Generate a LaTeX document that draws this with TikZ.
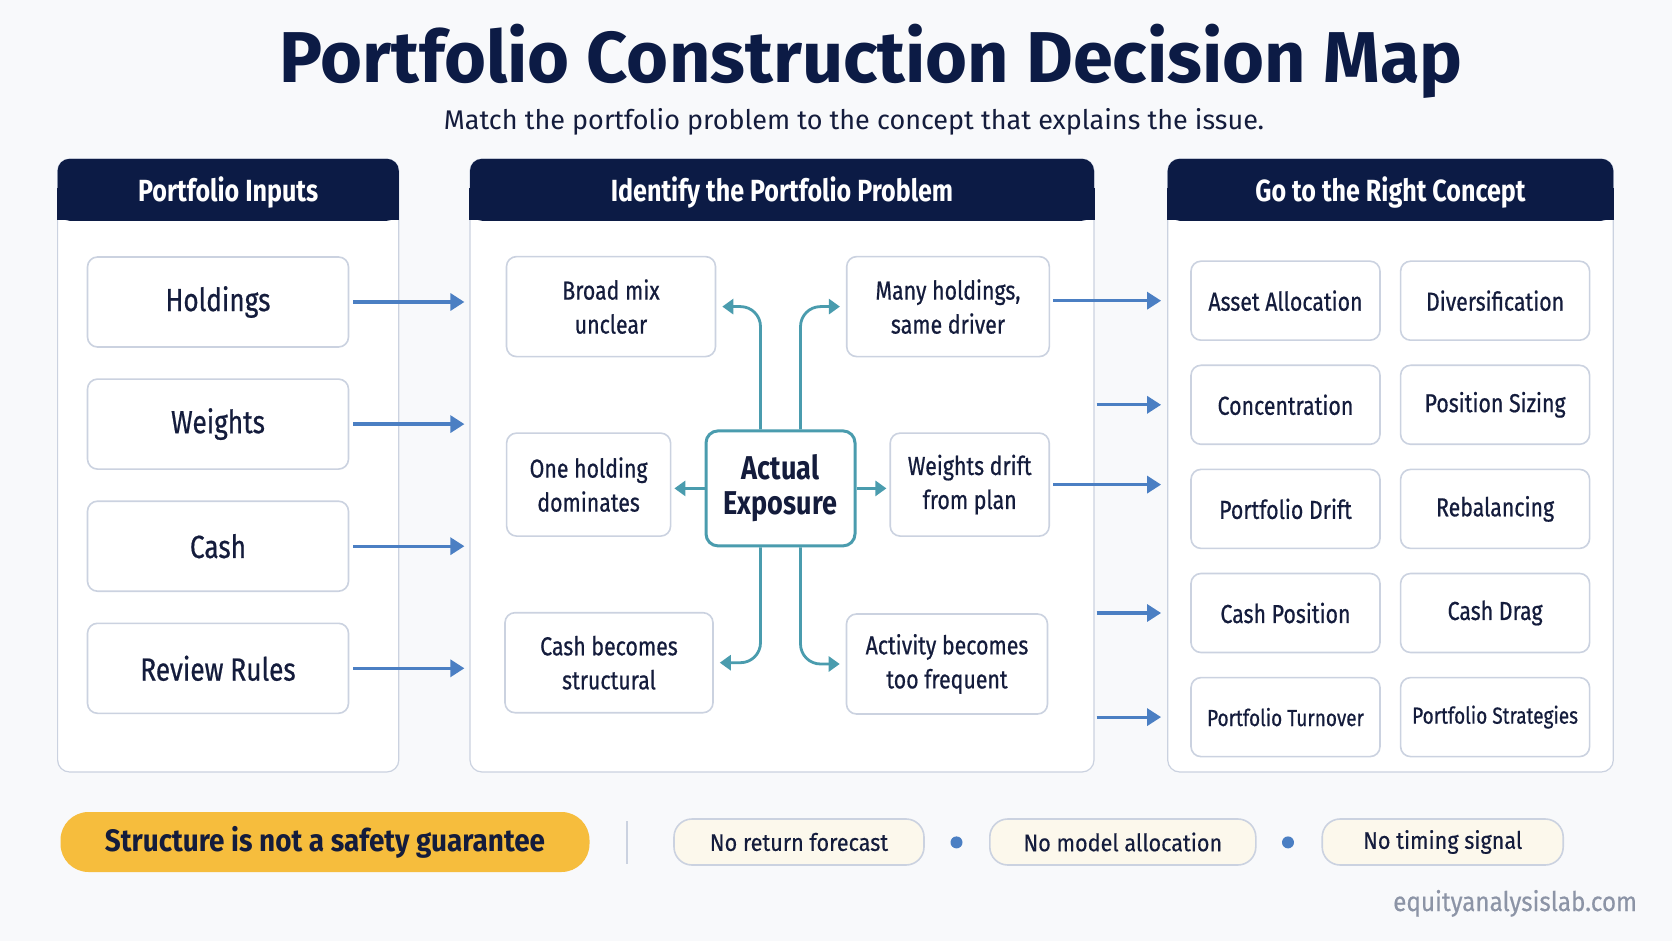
\documentclass[tikz,border=0pt]{standalone}
\usepackage{fontspec}
\setmainfont{Fira Sans}[FakeStretch=0.82]
\newfontfamily\plainfont{Fira Sans}
\newfontfamily\midfont{Fira Sans}[FakeStretch=0.9]
\newfontfamily\medfont{Fira Sans}[FakeStretch=0.82,FakeBold=0.6]
\newfontfamily\medwidefont{Fira Sans}[FakeStretch=0.9,FakeBold=0.4]
\usetikzlibrary{arrows.meta,positioning,calc,shapes.misc}
\definecolor{navy}{HTML}{0C1B45}
\definecolor{ink}{HTML}{141C3C}
\definecolor{boxline}{HTML}{CBD2E0}
\definecolor{flowblue}{HTML}{4B7FC3}
\definecolor{hubteal}{HTML}{4A9CAE}
\definecolor{warnyellow}{HTML}{F6BD3D}
\definecolor{cream}{HTML}{FCF8EC}
\definecolor{pagebg}{HTML}{F8F9FB}
\definecolor{wmgray}{HTML}{8C94A6}
\tikzset{
  % column enclosure and its dark title band
  panel/.style={draw=boxline, fill=white, rounded corners=6pt, line width=0.6pt,
                minimum height=306.5pt},
  hdr/.style={fill=navy, text=white, rounded corners=6pt, minimum height=31pt,
              anchor=north, text depth=1pt, font=\fontsize{15.3}{18}\selectfont\bfseries},
  % boxes inside the columns
  inbox/.style={draw=boxline, fill=white, rounded corners=5pt, line width=0.8pt,
                minimum width=130.5pt, minimum height=45pt, text=ink,
                font=\medfont\fontsize{16}{19}\selectfont},
  probbox/.style={draw=boxline, fill=white, rounded corners=5pt, line width=0.8pt,
                  minimum height=50pt, align=center, text=ink,
                  font=\medfont\fontsize{13}{17}\selectfont},
  hubbox/.style={draw=hubteal, fill=white, rounded corners=6pt, line width=1.5pt,
                 minimum width=74.5pt, minimum height=57.5pt, align=center, text=ink,
                 font=\fontsize{16.5}{17.5}\selectfont\bfseries},
  cptbox/.style={draw=boxline, fill=white, rounded corners=5pt, line width=0.8pt,
                 minimum width=94.5pt, minimum height=39.5pt, inner xsep=2pt, text=ink,
                 font=\medfont\fontsize{13}{16}\selectfont},
  cptsmall/.style={cptbox, font=\medfont\fontsize{11.6}{14}\selectfont},
  % arrows
  flowarr/.style={draw=flowblue, line width=1.6pt, -{Triangle[length=7pt,width=8.5pt]}},
  hubarr/.style={draw=hubteal, line width=1.4pt, rounded corners=10pt,
                 -{Triangle[length=5.5pt,width=7.5pt]}},
  % bottom strip
  warnpill/.style={fill=warnyellow, rounded corners=14pt, minimum width=264.5pt,
                   minimum height=30pt, text=ink, font=\midfont\fontsize{15.5}{18}\selectfont\bfseries},
  notepill/.style={draw=boxline, fill=cream, rounded corners=9pt, line width=0.8pt,
                   minimum height=23pt, text=ink, font=\medwidefont\fontsize{12}{15}\selectfont},
  sepdot/.style={circle, fill=flowblue, inner sep=0pt, minimum size=6pt}
}
\begin{document}
\begin{tikzpicture}[x=0.5pt,y=0.5pt]

\fill[pagebg] (0,0) rectangle (1672,-941);
\useasboundingbox (0,0) rectangle (1672,-941);

% Title
\node[anchor=base, text=navy, font=\plainfont\fontsize{36}{40}\selectfont\bfseries] (title) at (871,-83)
  {Portfolio Construction Decision Map};
\node[anchor=base, text=ink, font=\plainfont\fontsize{13.5}{16}\selectfont] (subtitle) at (854,-130)
  {Match the portfolio problem to the concept that explains the issue.};

% Three columns
\node[panel, minimum width=170.6pt] (inputs) at (228.2,-465.5) {};
\node[panel, minimum width=312pt] (prob) at (782,-465.5) {};
\node[panel, minimum width=222.8pt] (cpt) at (1390.5,-465.5) {};

% square off the lower corners of the title bands
\foreach \p in {inputs,prob,cpt}
  \fill[navy] ([yshift=-15pt]\p.north west) rectangle ([yshift=-31pt]\p.north east);
\node[hdr, minimum width=170.6pt] (inputs-h) at (inputs.north) {Portfolio Inputs};
\node[hdr, minimum width=312pt] (prob-h) at (prob.north) {Identify the Portfolio Problem};
\node[hdr, minimum width=222.8pt] (cpt-h) at (cpt.north) {Go to the Right Concept};

% Portfolio inputs
\node[inbox] (hold) at (218,-302) {Holdings};
\node[inbox, below=15.25pt of hold] (wts) {Weights};
\node[inbox, below=15.25pt of wts] (cash) {Cash};
\node[inbox, below=15.25pt of cash] (rules) {Review Rules};

\foreach \n in {hold,wts,cash,rules}
  \draw[flowarr] ([xshift=2pt]\n.east) -- ([xshift=-2.5pt]\n.east -| prob.west);

% Problems around the hub
\node[probbox, minimum width=104.5pt] (broad) at (611,-306.6) {Broad mix\\unclear};
\node[probbox, minimum width=101.3pt] (many) at (948,-306.6) {Many holdings,\\same driver};
\node[probbox, minimum width=82pt, minimum height=51.5pt] (onehold) at (588.6,-484.6) {One holding\\dominates};
\node[hubbox] (hub) at (780.5,-488.4) {Actual\\Exposure};
\node[probbox, minimum width=79.5pt, minimum height=51.5pt] (wdrift) at (969.7,-484.6) {Weights drift\\from plan};
\node[probbox, minimum width=104pt] (cashstr) at (609,-662.7) {Cash becomes\\structural};
\node[probbox, minimum width=100.5pt] (activ) at (947,-664) {Activity becomes\\too frequent};

\draw[hubarr] ([xshift=-10pt]hub.north) |- ([xshift=3pt]broad.east);
\draw[hubarr] ([xshift=10pt]hub.north) |- ([xshift=-3pt]many.west);
\draw[hubarr] ([xshift=-10pt]hub.south) |- ([xshift=3pt]cashstr.east);
\draw[hubarr] ([xshift=10pt]hub.south) |- ([xshift=-3pt]activ.west);
\draw[hubarr] (hub.west) -- ([xshift=1.5pt]hub.west -| onehold.east);
\draw[hubarr] (hub.east) -- ([xshift=-1.5pt]hub.east -| wdrift.west);

% Concepts, two per row
\node[cptbox] (alloc) at (1285.5,-300.7) {Asset Allocation};
\node[cptbox, right=9.5pt of alloc] (divers) {Diversification};
\node[cptbox, below=11.75pt of alloc] (conc) {Concentration};
\node[cptbox, right=9.5pt of conc] (possize) {Position Sizing};
\node[cptbox, below=11.75pt of conc] (pdrift) {Portfolio Drift};
\node[cptbox, right=9.5pt of pdrift] (rebal) {Rebalancing};
\node[cptbox, below=11.75pt of pdrift] (cashpos) {Cash Position};
\node[cptbox, right=9.5pt of cashpos] (cashdrag) {Cash Drag};
\node[cptsmall, below=11.75pt of cashpos] (turnover) {Portfolio Turnover};
\node[cptsmall, right=9.5pt of turnover] (strat) {Portfolio Strategies};

\draw[flowarr] ([xshift=1.5pt]many.east |- alloc.west) -- ([xshift=-3pt]alloc.west -| cpt.west);
\draw[flowarr] ([xshift=1.5pt]wdrift.east) -- ([xshift=-3pt]wdrift.east -| cpt.west);
\foreach \n in {conc,cashpos,turnover}
  \draw[flowarr] ([xshift=1pt]\n.west -| prob.east) -- ([xshift=-3pt]\n.west -| cpt.west);

% Bottom strip
\node[warnpill] (warn) at (325,-842) {Structure is not a safety guarantee};
\draw[boxline, line width=0.8pt] (627,-821) -- (627,-864);
\node[notepill, minimum width=125pt] (noret) at (799,-842) {No return forecast};
\node[sepdot] (dot1) at (956.5,-842.4) {};
\node[notepill, minimum width=133pt] (nomodel) at (1122.8,-842) {No model allocation};
\node[sepdot] (dot2) at (1288,-842.4) {};
\node[notepill, minimum width=120.5pt] (notime) at (1442.7,-842) {No timing signal};

\node[anchor=base east, text=wmgray, font=\medwidefont\fontsize{13.5}{16}\selectfont] (site) at (1644,-911)
  {equityanalysislab.com};

\end{tikzpicture}
\end{document}
